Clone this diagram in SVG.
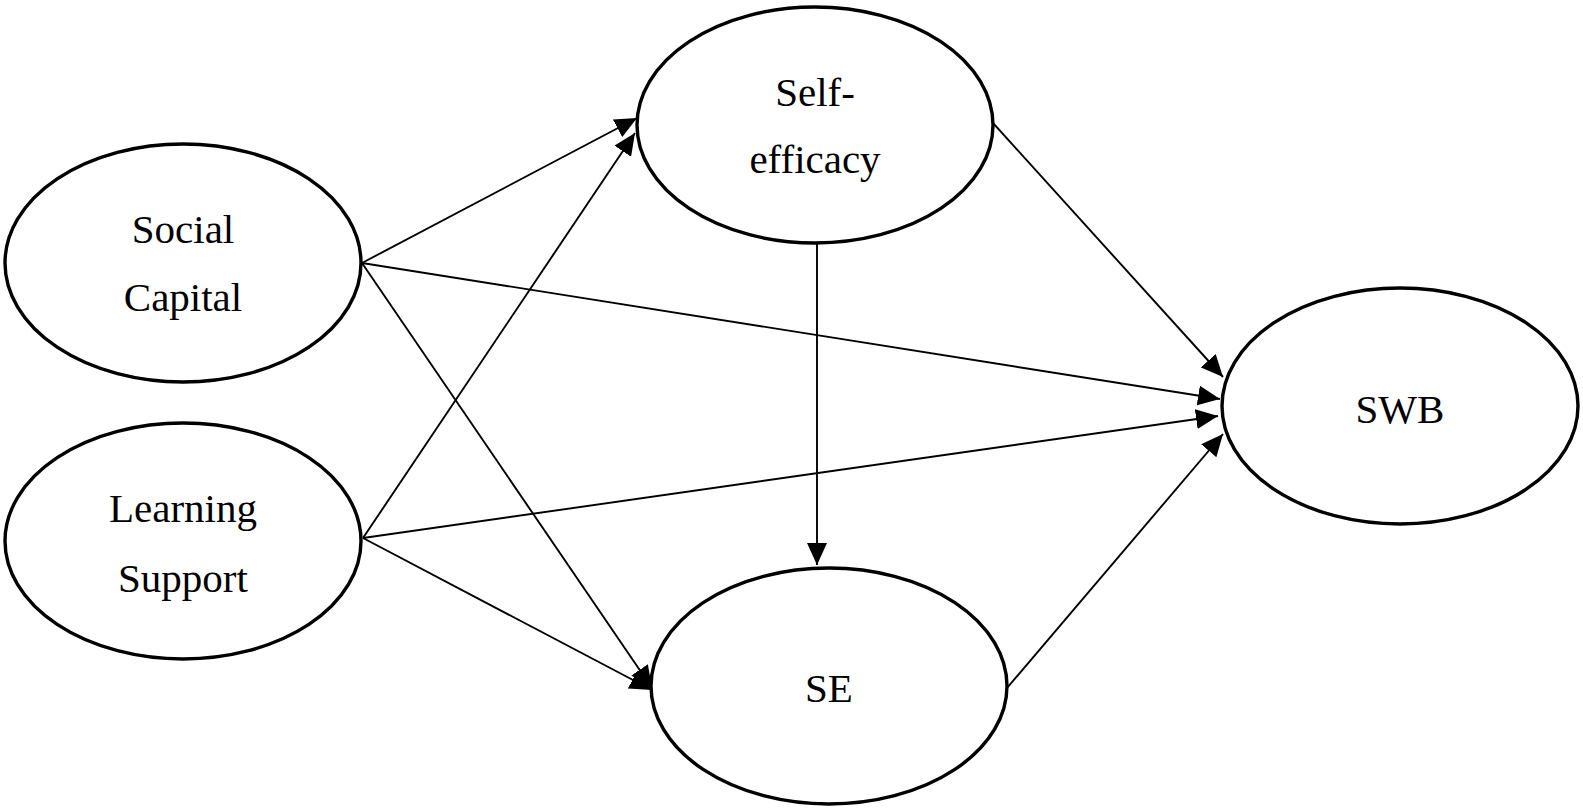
<svg xmlns="http://www.w3.org/2000/svg" width="1583" height="812" viewBox="0 0 1583 812">
<style>
.node ellipse{fill:#fff;stroke:#000;stroke-width:3.4}
.node text{font-family:"Liberation Serif","Times New Roman",serif;font-size:41px;fill:#000;text-anchor:middle}
.edge{stroke:#000;stroke-width:1.9;fill:none;marker-end:url(#arr)}
</style>
<defs>
<marker id="arr" markerUnits="userSpaceOnUse" markerWidth="23" markerHeight="20" refX="22" refY="10" orient="auto">
<path d="M0,0 L22,10 L0,20 z" fill="#000"/>
</marker>
</defs>
<rect width="1583" height="812" fill="#fff"/>
<g id="connectors">
<line class="edge" x1="362" y1="263" x2="637" y2="118"/>
<line class="edge" x1="362" y1="263" x2="1220" y2="399"/>
<line class="edge" x1="362" y1="263" x2="652" y2="688"/>
<line class="edge" x1="363" y1="538" x2="635" y2="133"/>
<line class="edge" x1="363" y1="538" x2="1218" y2="416"/>
<line class="edge" x1="363" y1="538" x2="652" y2="690"/>
<line class="edge" x1="817" y1="243" x2="817" y2="565"/>
<line class="edge" x1="993" y1="123" x2="1223" y2="377"/>
<line class="edge" x1="1007" y1="688" x2="1223" y2="434"/>
</g>
<g id="social-capital" class="node">
<ellipse cx="183" cy="263" rx="178" ry="119"/>
<text x="183" y="243">Social</text>
<text x="183" y="311">Capital</text>
</g>
<g id="learning-support" class="node">
<ellipse cx="183" cy="541" rx="178" ry="118"/>
<text x="183" y="522">Learning</text>
<text x="183" y="592">Support</text>
</g>
<g id="self-efficacy" class="node">
<ellipse cx="815" cy="125" rx="178" ry="118"/>
<text x="815" y="106">Self-</text>
<text x="815" y="173">efficacy</text>
</g>
<g id="se" class="node">
<ellipse cx="829" cy="686" rx="178" ry="118"/>
<text x="829" y="702">SE</text>
</g>
<g id="swb" class="node">
<ellipse cx="1400" cy="406" rx="178" ry="118"/>
<text x="1400" y="423">SWB</text>
</g>
</svg>
